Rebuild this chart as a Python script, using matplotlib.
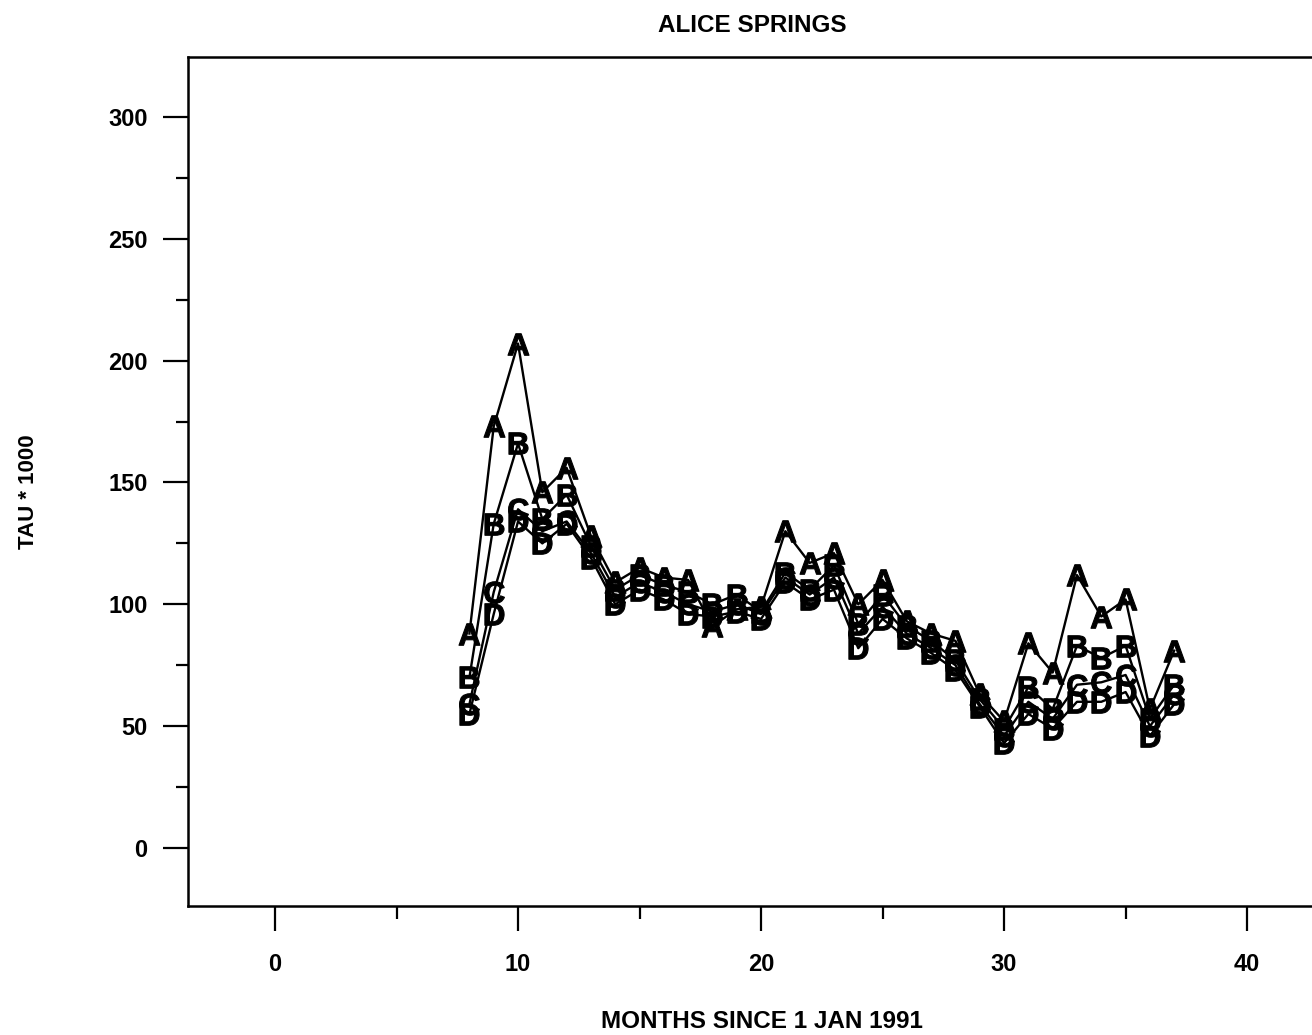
import matplotlib
matplotlib.use("Agg")
import matplotlib.pyplot as plt
from matplotlib.ticker import MultipleLocator

plt.rcParams['font.family'] = ['Liberation Sans', 'DejaVu Sans']
plt.rcParams['font.weight'] = 'bold'
plt.rcParams['mathtext.fontset'] = 'custom'
plt.rcParams['mathtext.bf'] = 'Liberation Sans:bold'

# months since 1 Jan 1991
months = list(range(8, 38))

# tau * 1000 for the four series
tau_a = [88, 173, 207, 146, 156, 128, 109, 115, 111, 110, 91, 98, 99, 130, 117,
         121, 100, 110, 93, 88, 85, 63, 52, 84, 72, 112, 95, 102, 57, 81]
tau_b = [70, 133, 166, 135, 145, 124, 106, 112, 108, 105, 100, 104, 97, 113, 106,
         116, 92, 104, 91, 85, 77, 61, 49, 66, 57, 83, 78, 83, 53, 67]
tau_c = [59, 105, 139, 130, 134, 121, 103, 109, 105, 100, 97, 100, 96, 111, 104,
         111, 88, 99, 88, 82, 75, 59, 46, 60, 53, 67, 68, 71, 50, 63]
tau_d = [55, 96, 134, 125, 133, 119, 100, 106, 102, 96, 95, 97, 94, 109, 102,
         106, 82, 94, 86, 80, 73, 58, 43, 55, 49, 60, 60, 64, 46, 59]

series = [('A', tau_a), ('B', tau_b), ('C', tau_c), ('D', tau_d)]

fig = plt.figure(figsize=(13.12, 10.35), dpi=100)
ax = fig.add_axes([188 / 1312, 129 / 1035, 1 - 188 / 1312, (906 - 57) / 1035])

for letter, vals in series:
    ax.plot(months, vals, color='black', linewidth=1.7,
            marker='$\\mathbf{%s}$' % letter, markersize=15.5,
            markerfacecolor='black', markeredgecolor='black', markeredgewidth=0.8)

ax.set_xlim(-3.58, 42.67)
ax.set_ylim(-23.8, 324.6)

ax.xaxis.set_major_locator(MultipleLocator(10))
ax.xaxis.set_minor_locator(MultipleLocator(5))
ax.yaxis.set_major_locator(MultipleLocator(50))
ax.yaxis.set_minor_locator(MultipleLocator(25))

ax.tick_params(axis='both', which='major', length=18, width=1.6, labelsize=17)
ax.tick_params(axis='both', which='minor', length=9, width=1.6)
ax.tick_params(axis='x', which='major', pad=16)
ax.tick_params(axis='y', which='major', pad=11)

for side in ['left', 'top', 'bottom']:
    ax.spines[side].set_linewidth(1.8)
ax.spines['right'].set_visible(False)

fig.text(752 / 1312, 1 - 25 / 1035, 'ALICE SPRINGS', ha='center', va='center',
         fontsize=17.5, fontweight='bold')
fig.text(762 / 1312, 1 - 1022 / 1035, 'MONTHS SINCE 1 JAN 1991', ha='center',
         va='center', fontsize=17.5, fontweight='bold')
fig.text(28 / 1312, 1 - 492 / 1035, 'TAU * 1000', ha='center', va='center',
         rotation=90, fontsize=16, fontweight='bold')

fig.savefig('out.png', dpi=100)
